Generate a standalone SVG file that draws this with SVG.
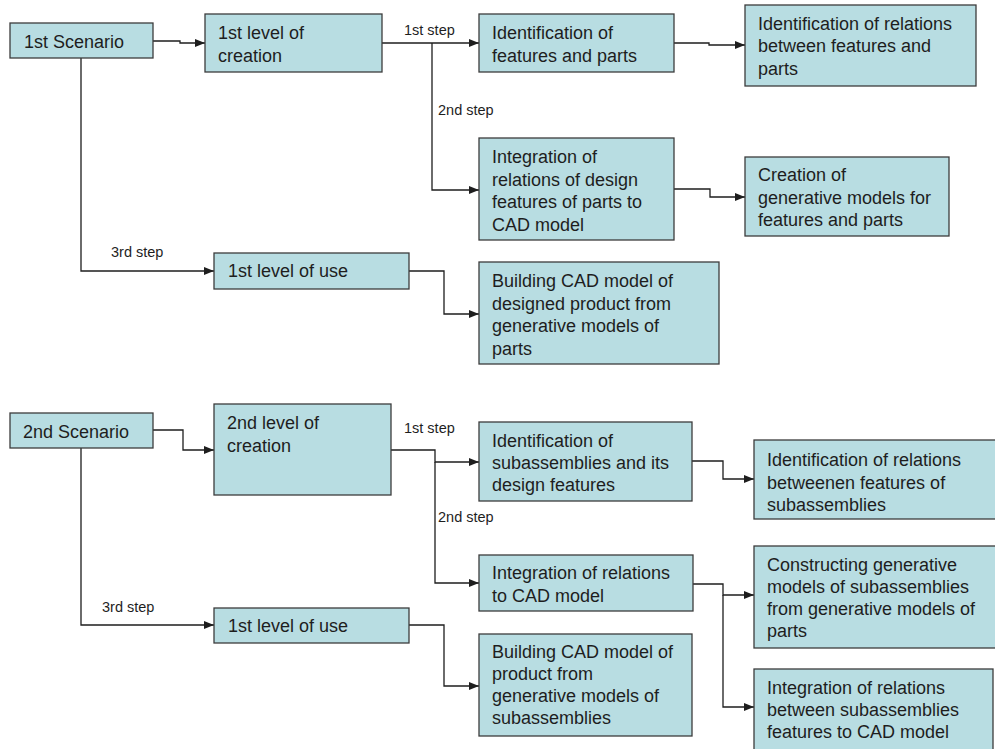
<svg xmlns="http://www.w3.org/2000/svg" width="995" height="749" viewBox="0 0 995 749">
<defs>
<style>
.box{fill:#b8dde2;stroke:#3c3c3c;stroke-width:1.3}
.t{font-family:"Liberation Sans",Arial,sans-serif;font-size:18px;fill:#1e1e1e}
.lbl{font-family:"Liberation Sans",Arial,sans-serif;font-size:14.5px;fill:#1e1e1e}
.c{fill:none;stroke:#1e1e1e;stroke-width:1.3}
</style>
<marker id="ah" markerUnits="userSpaceOnUse" markerWidth="10" markerHeight="8" refX="10" refY="4" orient="auto">
<path d="M0,0 L10,4 L0,8 Z" fill="#1e1e1e"/>
</marker>
</defs>
<rect width="995" height="749" fill="#ffffff"/>

<g id="connectors">
<path class="c" d="M153,41 H180 V43 H205" marker-end="url(#ah)"/>
<path class="c" d="M382,43 H479" marker-end="url(#ah)"/>
<path class="c" d="M432,43 V190 H479" marker-end="url(#ah)"/>
<path class="c" d="M674,43 H709 V45 H745" marker-end="url(#ah)"/>
<path class="c" d="M674,189 H710 V197 H745" marker-end="url(#ah)"/>
<path class="c" d="M81,58 V271 H214" marker-end="url(#ah)"/>
<path class="c" d="M409,271 H444 V314 H479" marker-end="url(#ah)"/>

<path class="c" d="M153,430 H183 V450 H214" marker-end="url(#ah)"/>
<path class="c" d="M391,450 H435 V462 H479" marker-end="url(#ah)"/>
<path class="c" d="M435,462 V583 H479" marker-end="url(#ah)"/>
<path class="c" d="M692,461 H723 V479 H754" marker-end="url(#ah)"/>
<path class="c" d="M693,584 H723 V595 H754" marker-end="url(#ah)"/>
<path class="c" d="M723,595 V707 H754" marker-end="url(#ah)"/>
<path class="c" d="M81,448 V625 H214" marker-end="url(#ah)"/>
<path class="c" d="M409,625 H444 V686 H479" marker-end="url(#ah)"/>

<text class="lbl" x="404" y="35">1st step</text>
<text class="lbl" x="438" y="115">2nd step</text>
<text class="lbl" x="111" y="257">3rd step</text>
<text class="lbl" x="404" y="433">1st step</text>
<text class="lbl" x="438" y="522">2nd step</text>
<text class="lbl" x="102" y="612">3rd step</text>
</g>

<g id="s1">
<rect class="box" x="10" y="23" width="143" height="35"/>
<text class="t" x="24" y="48">1st Scenario</text>
</g>
<g id="l1c">
<rect class="box" x="205" y="14" width="177" height="58"/>
<text class="t" x="218" y="39">1st level of</text>
<text class="t" x="218" y="62">creation</text>
</g>
<g id="idfp">
<rect class="box" x="479" y="14" width="195" height="58"/>
<text class="t" x="492" y="39">Identification of</text>
<text class="t" x="492" y="62">features and parts</text>
</g>
<g id="idrel1">
<rect class="box" x="745" y="5" width="231" height="81"/>
<text class="t" x="758" y="30">Identification of relations</text>
<text class="t" x="758" y="52">between features and</text>
<text class="t" x="758" y="75">parts</text>
</g>
<g id="integ1">
<rect class="box" x="479" y="138" width="195" height="102"/>
<text class="t" x="492" y="163">Integration of</text>
<text class="t" x="492" y="186">relations of design</text>
<text class="t" x="492" y="208">features of parts to</text>
<text class="t" x="492" y="231">CAD model</text>
</g>
<g id="creat1">
<rect class="box" x="745" y="157" width="204" height="79"/>
<text class="t" x="758" y="181">Creation of</text>
<text class="t" x="758" y="204">generative models for</text>
<text class="t" x="758" y="226">features and parts</text>
</g>
<g id="use1">
<rect class="box" x="214" y="253" width="195" height="36"/>
<text class="t" x="228" y="277">1st level of use</text>
</g>
<g id="build1">
<rect class="box" x="479" y="262" width="240" height="102"/>
<text class="t" x="492" y="287">Building CAD model of</text>
<text class="t" x="492" y="310">designed product from</text>
<text class="t" x="492" y="332">generative models of</text>
<text class="t" x="492" y="355">parts</text>
</g>

<g id="s2">
<rect class="box" x="10" y="413" width="143" height="35"/>
<text class="t" x="23" y="438">2nd Scenario</text>
</g>
<g id="l2c">
<rect class="box" x="214" y="404" width="177" height="91"/>
<text class="t" x="227" y="429">2nd level of</text>
<text class="t" x="227" y="452">creation</text>
</g>
<g id="idsub">
<rect class="box" x="479" y="422" width="213" height="79"/>
<text class="t" x="492" y="447">Identification of</text>
<text class="t" x="492" y="469">subassemblies and its</text>
<text class="t" x="492" y="491">design features</text>
</g>
<g id="idrel2">
<rect class="box" x="754" y="440" width="250" height="79"/>
<text class="t" x="767" y="466">Identification of relations</text>
<text class="t" x="767" y="489">betweenen features of</text>
<text class="t" x="767" y="511">subassemblies</text>
</g>
<g id="integ2">
<rect class="box" x="479" y="555" width="214" height="56"/>
<text class="t" x="492" y="579">Integration of relations</text>
<text class="t" x="492" y="602">to CAD model</text>
</g>
<g id="constr">
<rect class="box" x="754" y="546" width="250" height="102"/>
<text class="t" x="767" y="571">Constructing generative</text>
<text class="t" x="767" y="593">models of subassemblies</text>
<text class="t" x="767" y="615">from generative models of</text>
<text class="t" x="767" y="637">parts</text>
</g>
<g id="use2">
<rect class="box" x="214" y="608" width="195" height="35"/>
<text class="t" x="228" y="632">1st level of use</text>
</g>
<g id="build2">
<rect class="box" x="479" y="634" width="213" height="102"/>
<text class="t" x="492" y="658">Building CAD model of</text>
<text class="t" x="492" y="680">product from</text>
<text class="t" x="492" y="702">generative models of</text>
<text class="t" x="492" y="724">subassemblies</text>
</g>
<g id="integ3">
<rect class="box" x="754" y="669" width="239" height="90"/>
<text class="t" x="767" y="694">Integration of relations</text>
<text class="t" x="767" y="716">between subassemblies</text>
<text class="t" x="767" y="738">features to CAD model</text>
</g>
</svg>
